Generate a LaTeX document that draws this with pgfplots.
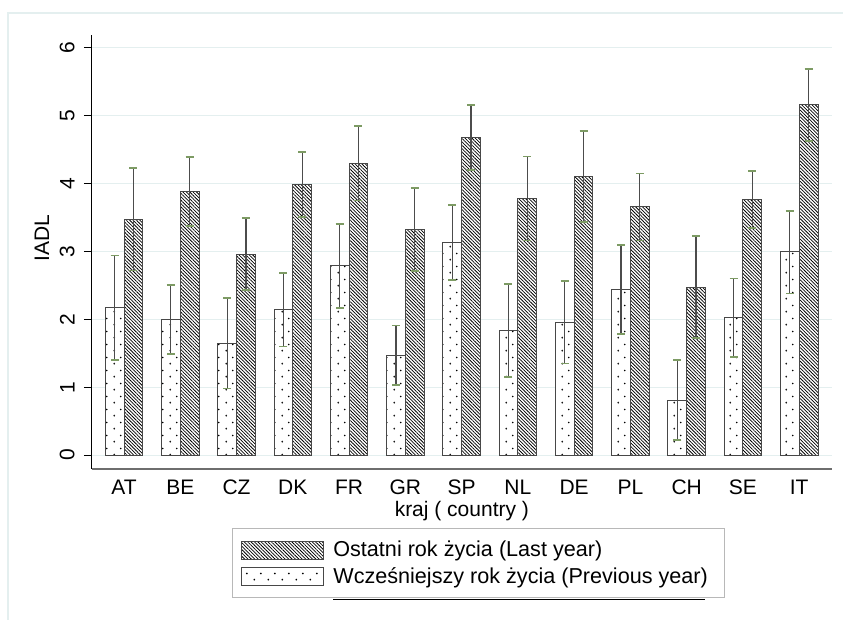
\documentclass[border=0pt]{standalone}
\usepackage{fontspec}
\setmainfont{Liberation Sans}
\usepackage{pgfplots}
\usepackage{pgfplotstable}
\pgfplotsset{compat=1.18}
\usetikzlibrary{patterns.meta}
\definecolor{gridc}{RGB}{228,239,239}
\definecolor{framec}{RGB}{228,239,239}
\definecolor{capgreen}{RGB}{125,155,100}
\tikzdeclarepattern{
  name=sdots,
  type=uncolored,
  bottom left={(0pt,0pt)},
  top right={(7pt,6.3pt)},
  tile size={(7pt,6.3pt)},
  code={
    \pgfpathcircle{\pgfqpoint{1.2pt}{1.2pt}}{0.48pt}
    \pgfpathcircle{\pgfqpoint{4.7pt}{4.35pt}}{0.48pt}
    \pgfusepath{fill}
  }
}
\pgfplotstableread{
x  prev prevlo prevhi last lastlo lasthi
0  2.17 1.40 2.94 3.47 2.72 4.23
1  2.00 1.49 2.50 3.88 3.37 4.39
2  1.64 0.98 2.31 2.96 2.43 3.49
3  2.14 1.60 2.68 3.99 3.51 4.47
4  2.79 2.17 3.40 4.30 3.75 4.85
5  1.47 1.03 1.91 3.32 2.71 3.93
6  3.13 2.58 3.69 4.68 4.20 5.16
7  1.83 1.15 2.52 3.78 3.16 4.40
8  1.96 1.35 2.57 4.11 3.43 4.78
9  2.44 1.78 3.10 3.66 3.16 4.15
10 0.81 0.22 1.40 2.47 1.72 3.23
11 2.02 1.44 2.60 3.77 3.34 4.18
12 3.00 2.38 3.60 5.16 4.63 5.69
}\datatable
\begin{document}
\begin{tikzpicture}
\useasboundingbox (0pt,0pt) rectangle (421.5pt,-310pt);
\fill[white] (0pt,0pt) rectangle (421.5pt,-310pt);
\draw[framec, line width=0.6pt] (4pt,-6.5pt) rectangle (440pt,-330pt);
\begin{axis}[
  at={(46pt,-234.5pt)}, anchor=south west,
  scale only axis,
  width=369.85pt, height=217pt,
  font=\fontsize{10.5}{12.6}\selectfont,
  /pgf/number format/assume math mode=true,
  xmin=-0.569, xmax=12.577,
  ymin=-0.206, ymax=6.19,
  axis x line*=bottom, axis y line*=left,
  x axis line style={-, draw={rgb,255:red,110;green,110;blue,110}, line width=0.75pt},
  y axis line style={-, draw=black, line width=0.5pt},
  ybar=0pt, bar width=9.4pt,
  xtick={0,...,12},
  xticklabels={AT,BE,CZ,DK,FR,GR,SP,NL,DE,PL,CH,SE,IT},
  xtick style={draw=none},
  xticklabel style={inner sep=0pt, anchor=north},
  xticklabel shift=1.25pt,
  ytick={0,1,2,3,4,5,6},
  tick align=outside,
  major tick length=4pt,
  ytick style={draw=black, line width=0.5pt},
  yticklabel style={rotate=90, anchor=south, inner sep=0pt},
  yticklabel shift=4.5pt,
  ymajorgrids,
  grid style={gridc, line width=0.5pt},
  xlabel={kraj ( country )},
  ylabel={IADL},
  x label style={at={(axis description cs:0.5,-0.1099)}, anchor=base, inner sep=0pt},
  y label style={at={(axis description cs:-0.0581,0.5316)}, anchor=base, inner sep=0pt},
  legend style={draw=none, fill=none, at={(0.2014,-0.1555)}, anchor=north west,
    inner sep=0pt, row sep=0pt, column sep=2.5pt,
    font=\fontsize{10.8}{12.9}\selectfont,
    cells={anchor=west}},
  reverse legend,
  legend image code/.code={\draw[#1] (0pt,-4.5pt) rectangle (41pt,4.5pt);},
  error bars/error bar style={black!70, line width=0.6pt},
  error bars/error mark=|,
  error bars/error mark options={capgreen, line width=0.9pt, mark size=2pt},
]
\addplot[draw=black!72, line width=0.5pt, fill=white, postaction={pattern={sdots}, pattern color=black},
  error bars/.cd, y dir=both, y explicit]
  table[x=x, y=prev,
    y error plus expr=\thisrow{prevhi}-\thisrow{prev},
    y error minus expr=\thisrow{prev}-\thisrow{prevlo}] {\datatable};
\addlegendentry{Wcześniejszy rok życia (Previous year)}
\addplot[draw=black!72, line width=0.5pt, fill=white, postaction={pattern={Lines[angle=-45,distance=1.2pt,line width=0.38pt]}, pattern color=black},
  error bars/.cd, y dir=both, y explicit]
  table[x=x, y=last,
    y error plus expr=\thisrow{lasthi}-\thisrow{last},
    y error minus expr=\thisrow{last}-\thisrow{lastlo}] {\datatable};
\addlegendentry{Ostatni rok życia (Last year)}
\end{axis}
\draw[black!28, line width=0.5pt] (116pt,-264.5pt) rectangle (362pt,-299pt);
\draw[black, line width=0.6pt] (166.5pt,-299.65pt) -- (352.5pt,-299.65pt);
\end{tikzpicture}
\end{document}
